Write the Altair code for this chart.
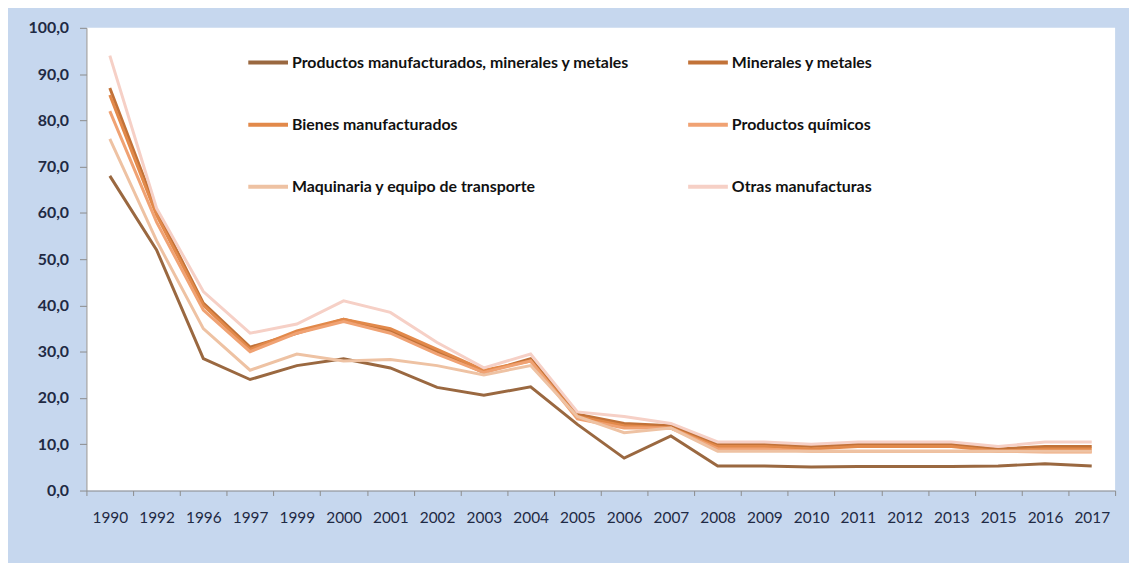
import altair as alt
import pandas as pd

years = ["1990", "1992", "1996", "1997", "1999", "2000", "2001", "2002", "2003", "2004", "2005",
         "2006", "2007", "2008", "2009", "2010", "2011", "2012", "2013", "2015", "2016", "2017"]

series_names = [
    "Productos manufacturados, minerales y metales",
    "Minerales y metales",
    "Bienes manufacturados",
    "Productos químicos",
    "Maquinaria y equipo de transporte",
    "Otras manufacturas",
]

prod_manuf_min_met = [68.0, 52.0, 28.5, 24.0, 27.0, 28.5, 26.5, 22.3, 20.6, 22.4, 14.3,
                      7.0, 11.8, 5.3, 5.3, 5.1, 5.2, 5.2, 5.2, 5.3, 5.8, 5.3]
minerales_metales = [87.0, 60.5, 40.5, 31.0, 34.0, 37.0, 34.5, 30.0, 25.5, 28.5, 16.5,
                     14.5, 14.0, 10.0, 10.0, 9.5, 10.0, 10.0, 10.0, 9.0, 9.5, 9.5]
bienes_manuf = [85.5, 59.5, 40.0, 30.5, 34.5, 37.0, 35.0, 30.5, 26.0, 28.0, 16.0,
                14.0, 13.5, 9.5, 9.5, 9.0, 9.5, 9.5, 9.5, 8.5, 9.0, 9.0]
prod_quimicos = [82.0, 58.0, 39.0, 30.0, 34.0, 36.5, 34.0, 29.5, 25.5, 28.0, 15.5,
                 13.5, 13.5, 9.0, 9.0, 8.5, 8.5, 8.5, 8.5, 8.5, 8.3, 8.3]
maquinaria = [76.0, 54.0, 35.0, 26.0, 29.5, 28.0, 28.3, 27.0, 25.0, 27.0, 16.0,
              12.5, 13.5, 8.5, 8.5, 8.5, 8.5, 8.5, 8.5, 8.5, 8.5, 8.5]
otras_manuf = [94.0, 61.0, 43.0, 34.0, 36.0, 41.0, 38.5, 32.0, 26.5, 29.5, 17.0,
               16.0, 14.5, 10.5, 10.5, 10.0, 10.5, 10.5, 10.5, 9.5, 10.5, 10.5]

series_values = [prod_manuf_min_met, minerales_metales, bienes_manuf,
                 prod_quimicos, maquinaria, otras_manuf]
series_colors = ["#9a6840", "#c27238", "#e2894a", "#f0a273", "#eec2a3", "#f6d0c6"]

# legend is laid out column by column: order entries so rows read as in the original
legend_order = [0, 2, 4, 1, 3, 5]
domain = [series_names[i] for i in legend_order]
color_range = [series_colors[i] for i in legend_order]

rows = []
for name, vals in zip(series_names, series_values):
    for y, v in zip(years, vals):
        rows.append({"Año": y, "Serie": name, "Valor": v})
df = pd.DataFrame(rows)

navy = "#1f2a44"

chart = alt.Chart(df).mark_line(strokeWidth=3).encode(
    x=alt.X("Año:O", sort=years,
            scale=alt.Scale(type="band", paddingInner=0, paddingOuter=0),
            axis=alt.Axis(title=None, labelAngle=0, tickBand="extent", grid=False,
                          domainColor="#8c8c8c", tickColor="#8c8c8c", tickSize=5,
                          labelPadding=15, labelColor=navy, labelFont="Lato",
                          labelFontSize=15.5)),
    y=alt.Y("Valor:Q", scale=alt.Scale(domain=[0, 100], nice=False),
            axis=alt.Axis(title=None, values=list(range(0, 101, 10)), grid=False,
                          labelExpr="replace(format(datum.value, '.1f'), '.', ',')",
                          domainColor="#8c8c8c", tickColor="#8c8c8c", tickSize=7,
                          labelPadding=11, labelColor=navy, labelFont="Lato",
                          labelFontSize=16, labelFontWeight="bold")),
    color=alt.Color("Serie:N", sort=domain,
                    scale=alt.Scale(domain=domain, range=color_range),
                    legend=alt.Legend(title=None, orient="none", legendX=161, legendY=13,
                                      columns=2, columnPadding=51, rowPadding=32.5,
                                      symbolType="stroke", symbolSize=1600,
                                      symbolStrokeWidth=4, labelFont="Lato",
                                      labelFontSize=16, labelFontWeight="bold",
                                      labelColor="#111111", labelOffset=2,
                                      labelLimit=600)),
).properties(
    width=1036, height=466,
    autosize=alt.AutoSizeParams(type="none"),
    padding={"left": 79, "top": 18, "right": 14, "bottom": 71},
    background="#c6d7ee",
).configure_view(fill="white", strokeWidth=0)

chart.save("out.html", embed_options={"renderer": "svg", "actions": False})
